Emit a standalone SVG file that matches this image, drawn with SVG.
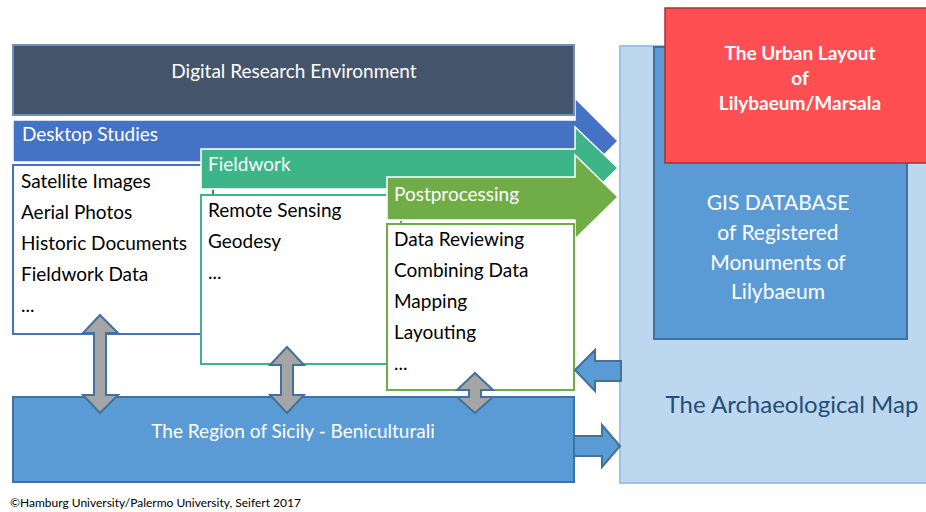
<svg xmlns="http://www.w3.org/2000/svg" width="926" height="512" viewBox="0 0 926 512">
  <style>
    text { font-family: Lato, "Open Sans", "Liberation Sans", sans-serif; }
    .hdr { fill: #ffffff; font-size: 19px; }
    .item { fill: #000000; font-size: 19px; }
    .gis { fill: #ffffff; font-size: 21px; text-anchor: middle; }
    .urban { fill: #ffffff; font-size: 19px; font-weight: bold; text-anchor: middle; }
    .band { stroke: #ffffff; stroke-width: 1.5; }
    .list { fill: #ffffff; stroke-width: 2; }
    .grey { fill: #a5a5a5; stroke: #41719c; stroke-width: 2; }
    .blue { fill: #5b9bd5; stroke: #41719c; stroke-width: 2; }
  </style>

  <rect width="926" height="512" fill="#ffffff"/>

  <!-- Archaeological map container -->
  <g id="archaeological-map">
    <rect x="620" y="46" width="310" height="437" fill="#bdd7ee" stroke="#9dc3e6" stroke-width="2"/>
    <text x="792" y="413" fill="#1f4e79" font-size="24" text-anchor="middle">The Archaeological Map</text>
  </g>

  <g id="gis-database">
    <rect x="654" y="47" width="253" height="292" class="blue"/>
    <text class="gis" x="778" y="210">GIS DATABASE</text>
    <text class="gis" x="778" y="240">of Registered</text>
    <text class="gis" x="778" y="270">Monuments of</text>
    <text class="gis" x="778" y="299">Lilybaeum</text>
  </g>

  <g id="urban-layout">
    <rect x="665" y="8" width="265" height="155" fill="#ff4f53" stroke="#a83236" stroke-width="1.5"/>
    <text class="urban" x="800" y="60">The Urban Layout</text>
    <text class="urban" x="800" y="85">of</text>
    <text class="urban" x="800" y="110">Lilybaeum/Marsala</text>
  </g>

  <!-- Desktop studies band and list -->
  <g id="desktop-studies">
    <polygon class="band" fill="#4472c4" points="13,120 575,120 575,98 618,141 575,184 575,162 13,162"/>
    <text class="hdr" x="22" y="141">Desktop Studies</text>
    <rect class="list" x="13" y="165" width="200" height="169" stroke="#4472c4"/>
    <text class="item" x="21" y="188">Satellite Images</text>
    <text class="item" x="21" y="219">Aerial Photos</text>
    <text class="item" x="21" y="250">Historic Documents</text>
    <text class="item" x="21" y="281">Fieldwork Data</text>
    <text class="item" x="21" y="312">...</text>
  </g>

  <g id="digital-research-environment">
    <rect x="13" y="45" width="561" height="70" fill="#44546a" stroke="#6f8fb5" stroke-width="2"/>
    <text class="hdr" x="294" y="78" text-anchor="middle">Digital Research Environment</text>
  </g>

  <!-- Fieldwork band and list -->
  <g id="fieldwork">
    <polygon class="band" fill="#3eb489" points="201,149 575,149 575,127 618,168 575,210 575,189 201,189"/>
    <text class="hdr" x="208" y="171">Fieldwork</text>
    <rect class="list" x="201" y="195" width="200" height="169" stroke="#3eb489"/>
    <text class="item" x="208" y="217">Remote Sensing</text>
    <text class="item" x="208" y="248">Geodesy</text>
    <text class="item" x="208" y="279">...</text>
  </g>

  <!-- Postprocessing band and list -->
  <g id="postprocessing">
    <polygon class="band" fill="#70ad47" points="387,177 575,177 575,155 618,197 575,239 575,220 387,220"/>
    <text class="hdr" x="394" y="201">Postprocessing</text>
    <rect class="list" x="387" y="224" width="187" height="166" stroke="#70ad47"/>
    <text class="item" x="394" y="246">Data Reviewing</text>
    <text class="item" x="394" y="277">Combining Data</text>
    <text class="item" x="394" y="308">Mapping</text>
    <text class="item" x="394" y="339">Layouting</text>
    <text class="item" x="394" y="370">...</text>
  </g>

  <g id="region-of-sicily">
    <rect x="13" y="397" width="561" height="85" class="blue"/>
    <text x="293" y="438" fill="#ffffff" font-size="19" text-anchor="middle">The Region of Sicily - Beniculturali</text>
  </g>

  <!-- Connectors -->
  <g id="connectors">
    <polygon class="grey" points="100,315 118,333 106,333 106,395 118,395 100,413 83,395 94,395 94,333 83,333"/>
    <polygon class="grey" points="287,347 304,365 293,365 293,395 304,395 287,413 270,395 281,395 281,365 270,365"/>
    <polygon class="grey" points="475,373 493,390 481,390 481,397 493,397 475,413 457,397 469,397 469,390 457,390"/>
    <polygon class="blue" points="575,370 595,350 595,361 621,361 621,381 595,381 595,391"/>
    <polygon class="blue" points="574,436 602,436 602,425 620,446 602,467 602,456 574,456"/>
  </g>

  <text x="10" y="507" fill="#000000" font-size="12">©Hamburg University/Palermo University, Seifert 2017</text>
</svg>
